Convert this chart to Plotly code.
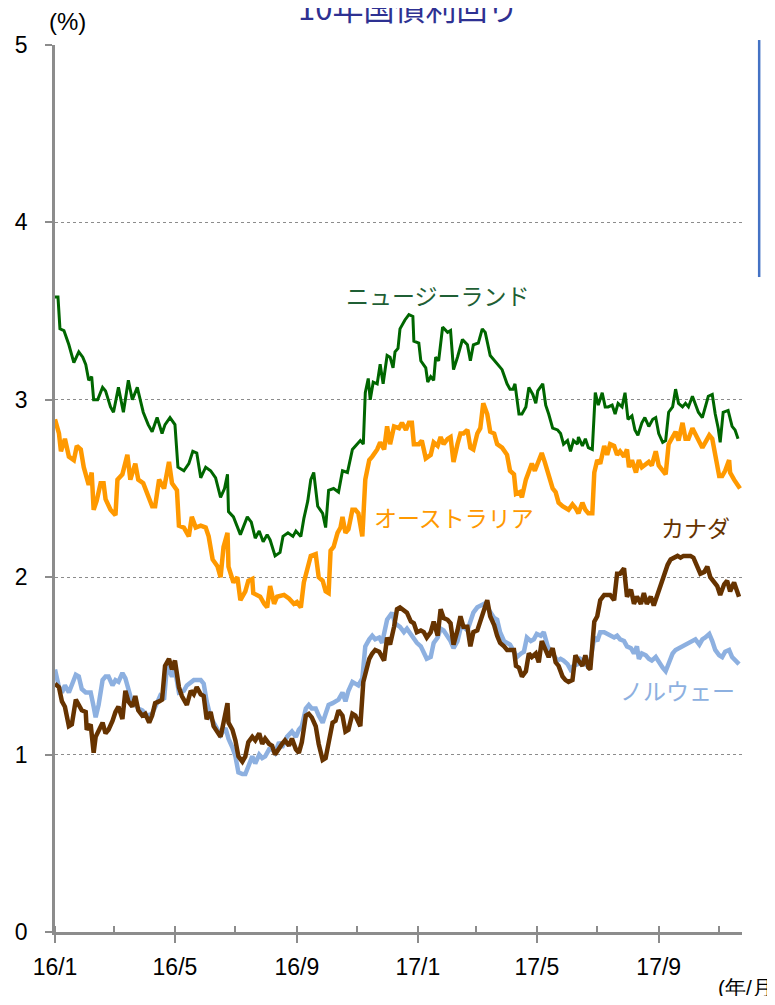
import pandas as pd
import plotly.graph_objects as go

# ---- data (days counted from 2016-01-01, yields in %) ----
start_date = "2016-01-01"

nz_days = [0,3,5,9,14,19,24,28,31,34, 37,39,43,48,51,56,59,64,69,74,
           78,83,86,89,94,98,103,108,111,116, 121,124,130,135,139,143,147,152,157,162,
           167,171,174,175,180,187,194,198,202,206, 210,214,217,222,227,230,235,240,243,248,
           251,255,258,261,265,270,273,276,281,286, 290,295,300,305,308,311,313,316,318,321,
           325,328,331,335,338,341,343,346,348,353, 357,361,362,367,369,374,376,379,382,384,
           387,391,396,399,402,406,411,416,419,422, 427,431,434,439,446,451,456,459,462,464,
           468,471,475,478,482,485,487,492,495,498, 502,507,510,513,517,520,523,527,528,532,
           535,538,542,545,548,552,555,558,562,565, 568,572,575,578,582,585,588,592,595,599,
           603,606,609,613,616,619,623,626,629,633, 636,639,643,646,649,653,656,659,663,666,
           669,671,674,679,683,686,689]
nz_vals = [3.58,3.58,3.40,3.39,3.31,3.21,3.27,3.24,3.20,3.11, 3.13,3.00,3.00,3.07,3.05,2.96,2.93,3.07,2.93,3.11,
           3.00,3.07,3.00,2.93,2.86,2.82,2.90,2.81,2.86,2.90, 2.86,2.62,2.60,2.64,2.71,2.70,2.56,2.62,2.60,2.56,
           2.45,2.50,2.58,2.37,2.34,2.24,2.34,2.31,2.22,2.26, 2.20,2.24,2.21,2.12,2.14,2.23,2.25,2.23,2.26,2.23,
           2.33,2.43,2.55,2.59,2.40,2.36,2.28,2.49,2.50,2.48, 2.60,2.59,2.72,2.75,2.77,2.75,3.04,3.12,3.00,3.10,
           3.09,3.20,3.09,3.25,3.24,3.18,3.27,3.29,3.40,3.45, 3.48,3.47,3.33,3.32,3.22,3.18,3.10,3.13,3.11,3.24,
           3.22,3.41,3.38,3.39,3.17,3.24,3.34,3.31,3.22,3.31, 3.32,3.40,3.38,3.25,3.20,3.17,3.09,3.06,3.06,3.09,
           2.92,2.92,2.96,3.07,3.03,2.98,3.05,3.09,2.97,2.92, 2.84,2.83,2.81,2.75,2.77,2.71,2.77,2.75,2.79,2.74,
           2.78,2.73,2.72,3.04,2.97,3.04,2.96,2.96,2.97,2.92, 2.98,2.96,3.04,2.89,2.91,2.83,2.80,2.87,2.90,2.85,
           2.89,2.90,2.81,2.76,2.77,2.93,2.96,3.06,2.98,2.96, 2.98,2.96,3.02,2.98,2.93,2.90,2.96,3.02,3.03,2.92,
           2.84,2.76,2.93,2.94,2.85,2.83,2.78]

au_days = [0,4,6,10,14,19,22,26,29,34, 37,39,42,46,49,51,56,61,63,68,
           73,76,81,84,89,93,98,101,105,110, 115,118,123,125,130,135,138,142,147,152,
           155,159,164,167,170,174,175,180,184,187, 192,195,199,200,207,211,214,217,221,224,
           231,236,241,244,248,251,254,258,263,266, 270,273,276,278,281,285,288,290,293,296,
           300,303,306,310,313,317,320,325,328,332, 335,338,342,347,350,354,357,360,362,367,
           370,374,379,382,386,389,392,396,399,402, 406,409,412,416,419,422,426,429,432,436,
           439,443,446,451,456,459,463,465,469,471, 475,478,481,484,488,491,494,498,502,505,
           508,512,515,518,522,525,528,532,535,538, 542,544,547,550,554,557,560,564,567,570,
           574,577,579,582,586,589,592,596,599,602, 606,609,613,616,619,623,626,629,633,636,
           639,643,646,650,653,656,660,663,666,670, 673,676,680,681,685,688,691]
au_vals = [2.89,2.81,2.71,2.78,2.68,2.66,2.74,2.72,2.62,2.52, 2.59,2.38,2.43,2.53,2.53,2.44,2.38,2.35,2.55,2.58,
           2.69,2.55,2.64,2.55,2.53,2.47,2.40,2.40,2.55,2.50, 2.65,2.53,2.49,2.29,2.28,2.23,2.34,2.28,2.29,2.28,
           2.23,2.10,2.06,2.00,2.17,2.25,2.06,1.97,2.00,1.87, 1.92,1.98,1.99,1.91,1.89,1.85,1.83,1.95,1.85,1.89,
           1.90,1.88,1.85,1.86,1.83,1.97,2.04,2.12,2.13,2.00, 1.98,1.92,1.91,2.15,2.17,2.25,2.28,2.34,2.25,2.27,
           2.38,2.38,2.36,2.23,2.55,2.66,2.68,2.72,2.76,2.72, 2.85,2.75,2.85,2.84,2.87,2.83,2.87,2.87,2.75,2.75,
           2.77,2.67,2.69,2.76,2.74,2.79,2.75,2.78,2.79,2.65, 2.75,2.81,2.81,2.83,2.73,2.72,2.81,2.84,2.98,2.92,
           2.82,2.81,2.75,2.73,2.69,2.60,2.58,2.47,2.48,2.45, 2.55,2.60,2.64,2.60,2.66,2.70,2.65,2.58,2.50,2.48,
           2.42,2.40,2.39,2.38,2.41,2.39,2.36,2.42,2.38,2.36, 2.36,2.59,2.66,2.64,2.74,2.69,2.75,2.74,2.69,2.71,
           2.68,2.72,2.62,2.66,2.59,2.66,2.62,2.64,2.65,2.63, 2.71,2.63,2.60,2.58,2.75,2.79,2.82,2.77,2.87,2.78,
           2.78,2.84,2.81,2.77,2.73,2.76,2.80,2.78,2.69,2.57, 2.57,2.60,2.66,2.59,2.55,2.52,2.50]

no_days = [0,4,7,10,14,17,21,24,27,31, 36,39,41,44,48,51,54,58,61,64,
           68,71,74,78,81,84,88,93,98,101, 106,110,113,118,121,125,130,133,140,147,
           150,153,157,162,167,172,175,179,182,185, 189,192,195,199,202,206,209,212,216,219,
           222,226,229,234,239,243,246,249,253,256, 259,263,266,270,273,276,280,283,286,290,
           293,296,300,303,306,310,313,317,320,323, 327,330,335,340,343,348,352,355,359,362,
           365,369,372,375,379,382,386,389,392,396, 399,402,406,409,412,416,419,422,426,429,
           433,436,439,443,446,449,453,456,459,463, 466,470,473,476,480,483,486,490,493,497,
           500,503,507,510,513,517,520,523,527,530, 533,537,540,544,547,550,554,557,560,564,
           567,570,574,577,581,584,587,589,592,596, 599,602,606,609,613,616,619,623,626,629,
           633,636,639,643,646,650,653,656,660,663, 666,670,673,676,680,683,687,690]
no_vals = [1.48,1.38,1.35,1.39,1.35,1.40,1.45,1.44,1.37,1.35, 1.35,1.27,1.21,1.28,1.42,1.44,1.44,1.39,1.42,1.41,
           1.46,1.43,1.37,1.29,1.28,1.26,1.25,1.22,1.23,1.27, 1.33,1.31,1.50,1.44,1.48,1.35,1.36,1.39,1.42,1.42,
           1.40,1.30,1.21,1.16,1.11,1.15,1.09,1.04,0.99,0.90, 0.89,0.89,0.93,0.99,0.95,1.00,0.98,0.99,1.03,1.03,
           1.01,1.07,1.04,1.10,1.13,1.10,1.14,1.16,1.26,1.28, 1.26,1.26,1.22,1.18,1.23,1.28,1.29,1.30,1.31,1.35,
           1.30,1.36,1.41,1.40,1.39,1.43,1.61,1.65,1.67,1.65, 1.66,1.63,1.76,1.80,1.74,1.72,1.69,1.71,1.68,1.65,
           1.63,1.61,1.57,1.54,1.55,1.63,1.66,1.71,1.70,1.67, 1.64,1.60,1.64,1.71,1.72,1.70,1.76,1.80,1.83,1.84,
           1.85,1.83,1.80,1.77,1.76,1.69,1.64,1.63,1.62,1.58, 1.55,1.57,1.58,1.66,1.64,1.65,1.68,1.67,1.69,1.61,
           1.58,1.56,1.53,1.54,1.53,1.51,1.48,1.50,1.51,1.54, 1.53,1.50,1.53,1.66,1.64,1.69,1.69,1.68,1.67,1.66,
           1.67,1.65,1.64,1.61,1.60,1.57,1.61,1.54,1.57,1.56, 1.54,1.53,1.55,1.52,1.49,1.47,1.52,1.57,1.59,1.60,
           1.61,1.62,1.63,1.64,1.65,1.62,1.65,1.66,1.68,1.64, 1.59,1.56,1.55,1.58,1.59,1.55,1.53,1.51]

ca_days = [0,4,7,10,14,17,21,24,27,31, 32,36,39,41,44,48,51,54,58,61,
           64,68,71,74,78,81,84,88,91,95, 98,101,105,108,111,115,118,121,125,128,
           133,137,140,143,147,150,153,157,160,164, 167,170,174,175,179,182,185,189,192,195,
           199,202,206,209,212,216,219,222,226,229, 232,236,239,243,246,249,253,256,259,263,
           266,270,273,276,280,283,286,290,293,296, 300,303,308,311,317,320,323,327,330,332,
           335,338,342,345,348,352,355,359,362,365, 369,372,375,379,382,386,389,392,396,399,
           402,406,409,412,416,419,422,426,429,433, 436,439,443,446,449,453,456,459,463,465,
           468,471,475,478,481,485,488,491,495,498, 502,505,508,512,515,518,522,525,528,532,
           535,538,540,544,547,550,554,557,560,564, 567,570,574,577,581,584,587,591,594,597,
           601,604,608,611,614,618,621,624,628,631, 634,638,641,644,648,651,655,658,661,665,
           668,671,675,678,681,685,688,690]
ca_vals = [1.40,1.38,1.30,1.27,1.16,1.17,1.31,1.28,1.25,1.24, 1.14,1.17,1.01,1.10,1.14,1.18,1.12,1.14,1.19,1.24,
           1.27,1.20,1.36,1.30,1.27,1.33,1.25,1.22,1.23,1.18, 1.22,1.29,1.30,1.31,1.50,1.54,1.48,1.53,1.38,1.33,
           1.28,1.36,1.34,1.38,1.34,1.33,1.20,1.24,1.16,1.12, 1.10,1.18,1.29,1.18,1.14,1.08,0.99,0.96,0.99,1.07,
           1.10,1.08,1.12,1.06,1.09,1.06,1.05,1.00,1.04,1.06, 1.08,1.05,1.09,1.03,1.01,1.07,1.22,1.23,1.21,1.16,
           1.06,0.97,0.98,1.08,1.18,1.19,1.25,1.22,1.13,1.14, 1.23,1.22,1.16,1.41,1.54,1.57,1.59,1.58,1.55,1.53,
           1.66,1.62,1.72,1.82,1.83,1.81,1.80,1.75,1.74,1.69, 1.70,1.69,1.66,1.69,1.75,1.67,1.82,1.77,1.76,1.74,
           1.62,1.70,1.78,1.72,1.72,1.61,1.69,1.70,1.75,1.81, 1.87,1.78,1.73,1.67,1.63,1.61,1.59,1.59,1.59,1.50,
           1.49,1.44,1.47,1.57,1.55,1.57,1.52,1.64,1.59,1.55, 1.60,1.52,1.50,1.44,1.42,1.41,1.42,1.56,1.53,1.50,
           1.56,1.49,1.48,1.75,1.78,1.87,1.90,1.90,1.90,1.87, 2.02,2.02,2.05,1.89,1.93,1.85,1.89,1.85,1.91,1.85,
           1.89,1.84,1.91,1.95,2.02,2.07,2.10,2.11,2.12,2.11, 2.12,2.12,2.12,2.11,2.05,2.02,2.03,2.06,2.00,1.97,
           1.95,1.90,1.96,1.98,1.92,1.97,1.91,1.89]

series_names = ["ニュージーランド", "オーストラリア", "ノルウェー", "カナダ"]
tick_dates = ["2016-01-01", "2016-05-01", "2016-09-01", "2017-01-01", "2017-05-01", "2017-09-01"]
tick_labels = ["16/1", "16/5", "16/9", "17/1", "17/5", "17/9"]
y_ticks = [0, 1, 2, 3, 4, 5]
title_text = "10年国債利回り"


def to_dates(days):
    return pd.Timestamp(start_date) + pd.to_timedelta(days, unit="D")


colors = {"nz": "#006600", "au": "#FF9900", "no": "#8DB0E0", "ca": "#663300"}
label_colors = {"nz": "#1F5F35", "au": "#FF9900", "no": "#8DB0E0", "ca": "#663300"}
widths = {"nz": 3, "au": 4.5, "no": 4.5, "ca": 4.5}

fig = go.Figure()
for key, d, v, name in [("nz", nz_days, nz_vals, series_names[0]),
                        ("au", au_days, au_vals, series_names[1]),
                        ("no", no_days, no_vals, series_names[2]),
                        ("ca", ca_days, ca_vals, series_names[3])]:
    fig.add_trace(go.Scatter(x=to_dates(d), y=v, mode="lines", name=name,
                             line=dict(color=colors[key], width=widths[key]),
                             showlegend=False, hoverinfo="skip"))

axis_gray = "#8C8C8C"
num_family = "Liberation Sans Narrow, Liberation Sans, Arial, sans-serif"
tick_font = dict(family=num_family, size=23, color="#000000")
jp_font = "Noto Sans CJK JP, sans-serif"

fig.update_layout(
    width=767, height=988,
    margin=dict(l=47, r=33, t=37, b=64, autoexpand=False),
    paper_bgcolor="white", plot_bgcolor="white",
    xaxis=dict(
        type="date", range=["2016-01-01", "2017-11-24"], automargin=False,
        tickvals=tick_dates, ticktext=tick_labels,
        ticks="outside", ticklen=8, tickwidth=2, tickcolor=axis_gray,
        minor=dict(ticks="inside", ticklen=6, tickwidth=2, tickcolor=axis_gray,
                   dtick="M2", tick0="2016-01-01", showgrid=False),
        showline=True, linecolor=axis_gray, linewidth=2.5,
        showgrid=False, zeroline=False, tickfont=tick_font,
        ticklabelstandoff=5,
    ),
    yaxis=dict(
        range=[0, 5], tickvals=y_ticks, automargin=False,
        ticks="outside", ticklen=7, tickwidth=2, tickcolor=axis_gray,
        showline=True, linecolor=axis_gray, linewidth=2.5,
        showgrid=True, gridcolor="#8C8C8C", gridwidth=1.3, griddash="dot",
        zeroline=False, tickfont=tick_font, ticklabelstandoff=13,
    ),
)

annotations = [
    dict(text=title_text, x=0.5138, y=1.0434, font=dict(family=jp_font, size=31, color="#2E3192")),
    dict(text="(%)", x=0.0189, y=1.026, font=dict(family=num_family, size=24, color="#000000")),
    dict(text="(年/月)", x=1.0095, y=-0.0631, font=dict(family=num_family, size=21, color="#000000")),
    dict(text=series_names[0], x=0.5575, y=0.7182, font=dict(family=jp_font, size=23, color=label_colors["nz"])),
    dict(text=series_names[1], x=0.5808, y=0.4679, font=dict(family=jp_font, size=23, color=label_colors["au"])),
    dict(text=series_names[3], x=0.9316, y=0.4566, font=dict(family=jp_font, size=23, color=label_colors["ca"])),
    dict(text=series_names[2], x=0.9054, y=0.2728, font=dict(family=jp_font, size=23, color=label_colors["no"])),
]
for a in annotations:
    fig.add_annotation(xref="paper", yref="paper", showarrow=False,
                       xanchor="center", yanchor="middle", **a)

fig.add_shape(type="line", xref="paper", yref="paper",
              x0=1.025, x1=1.025, y0=1.0056, y1=0.7384,
              line=dict(color="#4472C4", width=2.5))

fig.write_html("out.html")
